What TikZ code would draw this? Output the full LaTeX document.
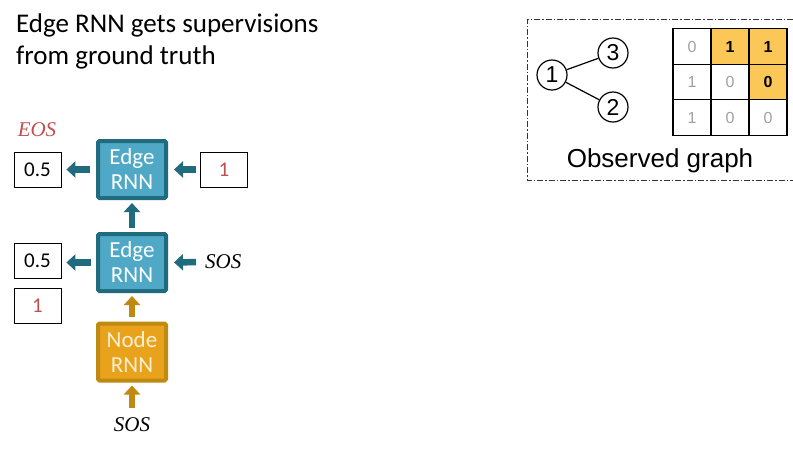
\documentclass[tikz,border=0pt]{standalone}
\usepackage{fontspec}
\newfontfamily\calib{Carlito}
\newfontfamily\arial{Liberation Sans}
\newfontfamily\tokfont{Liberation Serif}
\usetikzlibrary{arrows.meta}
\definecolor{tealdark}{HTML}{216B7E}
\definecolor{tealfill}{HTML}{4FA8C5}
\definecolor{golddark}{HTML}{C08A10}
\definecolor{goldfill}{HTML}{E8A21C}
\definecolor{goldtext}{HTML}{FCEFD2}
\definecolor{redtxt}{HTML}{C0504D}
\definecolor{celly}{HTML}{FBC757}
\definecolor{grayt}{HTML}{A0A0A0}
\tikzset{
  rnnbox/.style={draw, line width=4pt, rounded corners=1.5pt, minimum width=68pt, minimum height=57pt,
     align=center, font=\calib\fontsize{23}{25}\selectfont, inner sep=0pt},
  edgebox/.style={rnnbox, draw=tealdark, fill=tealfill, text=white},
  nodebox/.style={rnnbox, draw=golddark, fill=goldfill, text=goldtext},
  valbox/.style={draw, line width=0.8pt, minimum width=47pt, minimum height=35pt, inner sep=0pt,
     font=\calib\fontsize{21}{23}\selectfont},
  tokenlbl/.style={font=\tokfont\itshape\fontsize{21}{24}\selectfont, inner sep=0pt},
  blockarr/.style={line width=6.5pt, -{Triangle[length=9pt,width=16pt]}},
  tealarr/.style={blockarr, draw=tealdark},
  goldarr/.style={blockarr, draw=golddark},
  gnode/.style={draw, circle, line width=1.2pt, minimum size=30pt, inner sep=0pt,
     font=\arial\fontsize{23}{24}\selectfont},
  cell/.style={draw, line width=1.2pt, minimum width=38pt, minimum height=35.5pt, inner sep=0pt,
     font=\arial\fontsize{16}{18}\selectfont, text=grayt},
  hcell/.style={cell, fill=celly, text=black, font=\arial\bfseries\fontsize{16}{18}\selectfont},
}
\begin{document}
\begin{tikzpicture}[x=1pt,y=-1pt]
\useasboundingbox (0,0) rectangle (793,467);
% title
\node[anchor=base west, inner sep=0pt, font=\calib\fontsize{27}{30}\selectfont] (t1) at (16,32) {Edge RNN gets supervisions};
\node[anchor=base west, inner sep=0pt, font=\calib\fontsize{27}{30}\selectfont] (t2) at (16,64) {from ground truth};
% RNN boxes
\node[edgebox] (e1) at (132,169.5) {Edge\\RNN};
\node[edgebox] (e2) at (132,262.5) {Edge\\RNN};
\node[nodebox] (n1) at (132,352) {Node\\RNN};
% value boxes
\node[valbox] (o1) at (37.5,169.5) {0.5};
\node[valbox] (o2) at (37.5,260.5) {0.5};
\node[valbox, text=redtxt] (g2) at (37.5,306) {1};
\node[valbox, text=redtxt] (i1) at (224,169.5) {1};
% tokens
\node[tokenlbl, text=redtxt] (eos) at (37,130) {EOS};
\node[tokenlbl, anchor=west] (sos1) at (205,262) {SOS};
\node[tokenlbl] (sos2) at (132,425) {SOS};
% arrows
\draw[tealarr, shorten <=6pt, shorten >=5pt] (e1.west) -- (o1.east);
\draw[tealarr, shorten <=5pt, shorten >=5pt] (e2.west -| e1.west) -- (o2.east |- e2.west);
\draw[tealarr, shorten <=4pt, shorten >=6pt] (i1.west) -- (e1.east);
\draw[tealarr, shorten <=9pt, shorten >=6pt] (sos1.west) -- (e2.east);
\draw[tealarr, shorten <=4pt, shorten >=3pt] (e2.north) -- (e1.south);
\draw[goldarr, shorten <=5pt, shorten >=3pt] (n1.north) -- (e2.south);
\draw[goldarr, shorten <=10pt, shorten >=3pt] (sos2.north) -- (n1.south);
% observed graph panel
\draw[line width=0.9pt, draw=black!80, dash pattern=on 6pt off 2pt on 1.5pt off 2pt]
  (793,19) -- (527,19) -- (527,180) -- (793,180);
\node[gnode] (c1) at (552,75) {1};
\node[gnode] (c3) at (613,53) {3};
\node[gnode] (c2) at (613,107) {2};
\draw[line width=1.2pt] (c1) -- (c3);
\draw[line width=1.2pt] (c1) -- (c2);
% matrix
\node[cell] (m11) at (692,46.5) {0};
\node[hcell] (m12) at (730,46.5) {1};
\node[hcell] (m13) at (768,46.5) {1};
\node[cell] (m21) at (692,82) {1};
\node[cell] (m22) at (730,82) {0};
\node[hcell] (m23) at (768,82) {0};
\node[cell] (m31) at (692,117.5) {1};
\node[cell] (m32) at (730,117.5) {0};
\node[cell] (m33) at (768,117.5) {0};
\node[inner sep=0pt, font=\arial\fontsize{26}{28}\selectfont] (obs) at (660,161) {Observed graph};
\end{tikzpicture}
\end{document}
